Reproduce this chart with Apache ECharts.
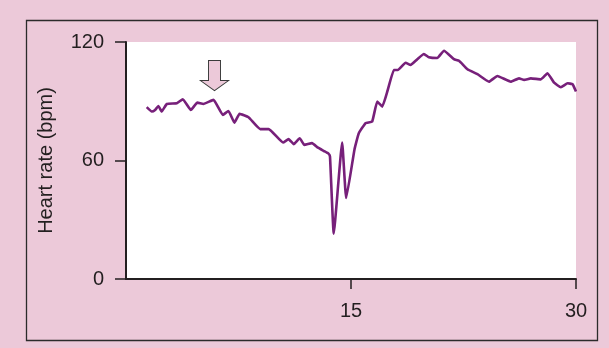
<!DOCTYPE html>
<html>
<head>
<meta charset="utf-8">
<script src="https://cdn.jsdelivr.net/npm/echarts@6/dist/echarts.min.js"></script>
<style>
  html, body { margin: 0; padding: 0; background: #ecc9d9; }
  #chart { width: 609px; height: 348px; }
</style>
</head>
<body>
<div id="chart"></div>
<script>
// Heart-rate trace over time (x in minutes, y in beats per minute)
const timeMin = [1.38, 1.72, 1.94, 2.16, 2.38, 2.72, 3.39, 3.79, 4.32, 4.76, 5.16, 5.83,
  6.46, 6.83, 7.23, 7.57, 8.17, 8.95, 9.51, 10.47, 10.84, 11.18, 11.58, 11.89, 12.4,
  12.8, 13.2, 13.5, 13.6, 13.85, 14.41, 14.68, 15.23, 15.52, 15.97, 16.41, 16.75,
  17.08, 17.45, 17.86, 18.12, 18.64, 18.97, 19.42, 19.86, 20.19, 20.75, 21.2, 21.86,
  22.2, 22.76, 23.43, 24.2, 24.76, 25.65, 26.2, 26.54, 26.99, 27.66, 28.1, 28.54,
  28.99, 29.44, 29.77, 30];
const heartRate = [87, 84.8, 85.6, 87.6, 84.8, 88.6, 89, 91, 85.6, 89.3, 88.6, 90.7,
  83.1, 85.1, 79.2, 83.6, 81.9, 75.9, 75.9, 69.1, 70.8, 68.3, 71.3, 67.9, 68.8,
  66.5, 64.8, 63.5, 62, 23, 69.1, 41, 65.5, 73.8, 78.9, 79.7, 89.8,
  87.3, 95.7, 105.8, 105.8, 109.5, 108.4, 111.3, 113.9, 112.3, 111.9, 115.6, 111.3,
  110.5, 106.2, 103.7, 99.9, 102.8, 99.9, 101.6, 100.8, 101.6, 101.1, 104.2, 99.4,
  97.1, 99.1, 98.6, 94.9];
const xTicks = [15, 30];
// Event marker (downward arrow) position
const eventTime = [5.9];
const eventLevel = [103];

const series = timeMin.map((t, i) => [t, heartRate[i]]);
const ink = '#231f20';
const labelFont = { fontFamily: 'Liberation Sans, Arial, sans-serif', fontSize: 20, color: ink };

const chart = echarts.init(document.getElementById('chart'), null, { renderer: 'canvas' });
chart.setOption({
  backgroundColor: '#ecc9d9',
  animation: false,
  graphic: [{
    type: 'rect',
    shape: { x: 26.5, y: 20.5, width: 571, height: 320 },
    style: { fill: 'none', stroke: '#2b2b2b', lineWidth: 1.3 },
    z: -1
  }],
  grid: {
    left: 126, right: 33, top: 42, bottom: 69,
    show: true, backgroundColor: '#ffffff', borderWidth: 0
  },
  xAxis: {
    type: 'value', min: 0, max: 30,
    axisLine: { lineStyle: { color: ink, width: 2 } },
    axisTick: { show: true, customValues: xTicks, length: 10, lineStyle: { color: ink, width: 1.5 } },
    axisLabel: Object.assign({ customValues: xTicks, margin: 22 }, labelFont),
    splitLine: { show: false }
  },
  yAxis: {
    type: 'value', min: 0, max: 120, interval: 60,
    name: 'Heart rate (bpm)', nameLocation: 'middle', nameRotate: 90, nameGap: 70,
    nameTextStyle: labelFont,
    axisLine: { show: true, lineStyle: { color: ink, width: 2 } },
    axisTick: { show: true, length: 11, lineStyle: { color: ink, width: 1.5 } },
    axisLabel: Object.assign({ margin: 22 }, labelFont),
    splitLine: { show: false }
  },
  series: [{
    type: 'line',
    data: series,
    smooth: 0.12,
    showSymbol: false,
    lineStyle: { color: '#77207a', width: 2.6 },
    markPoint: {
      silent: true,
      data: [{
        coord: [eventTime[0], eventLevel[0]],
        symbol: 'path://M8,0 L20,0 L20,20 L28,20 L14,30 L0,20 L8,20 Z',
        symbolSize: [28, 30],
        itemStyle: { color: '#ecc9d9', borderColor: '#3a3a3a', borderWidth: 1 },
        label: { show: false }
      }]
    }
  }]
});
</script>
</body>
</html>
